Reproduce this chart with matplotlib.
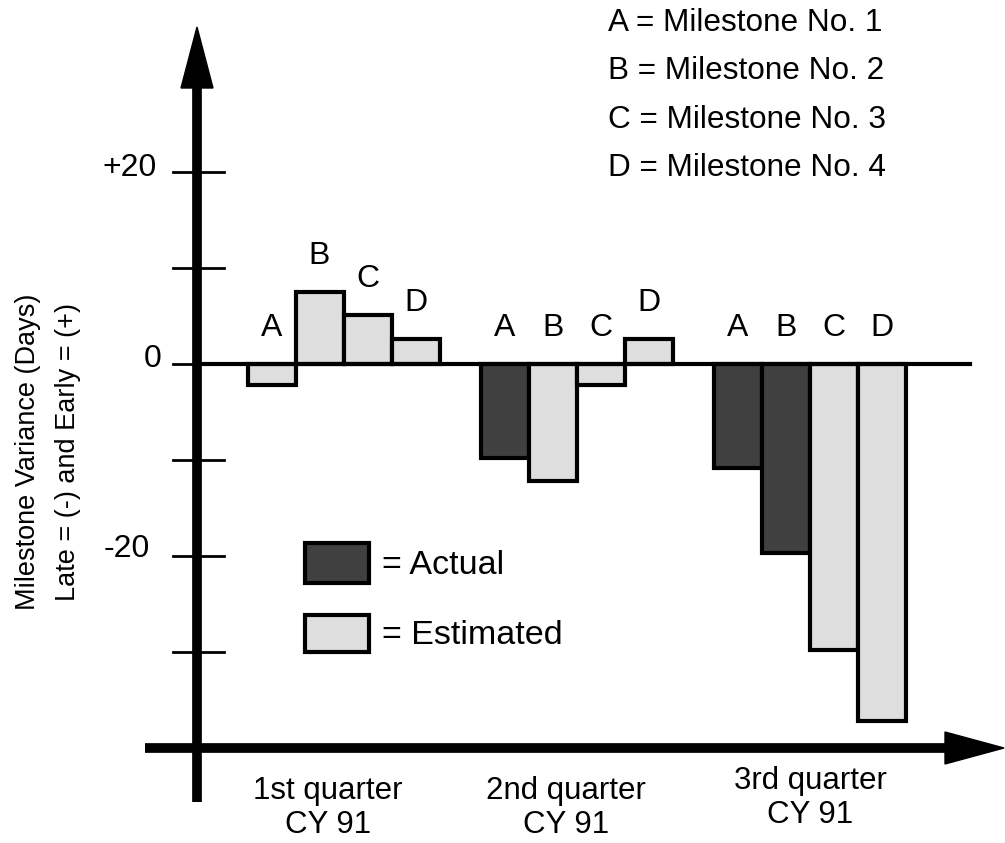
import matplotlib.pyplot as plt
import numpy as np

plt.rcParams['font.family'] = ['Liberation Sans', 'DejaVu Sans']

# ---------------- data
quarters = ['1st quarter', '2nd quarter', '3rd quarter']
year = 'CY 91'
milestones = ['A', 'B', 'C', 'D']
# variance in days, late = negative, early = positive
q1_days = [-2.2, 7.5, 5.1, 2.6]
q2_days = [-9.8, -12.2, -2.2, 2.6]
q3_days = [-10.8, -19.7, -29.8, -37.2]
# True = actual, False = estimated
q1_actual = [False, False, False, False]
q2_actual = [True, False, False, False]
q3_actual = [True, True, False, False]
y_ticks = [20, 10, 0, -10, -20, -30]
y_tick_labels = ['+20', '0', '-20']
key_text = ['A = Milestone No. 1', 'B = Milestone No. 2',
            'C = Milestone No. 3', 'D = Milestone No. 4']

DARK = '#404040'
LIGHT = '#dedede'

fig = plt.figure(figsize=(10.05, 8.43), dpi=100)
ax = fig.add_axes([0, 0, 1, 1])
ax.axis('off')

# layout: one bar = 48 px, one day = 9.6 px, zero line at 364 px from top
PX_BAR = 48.0
PX_DAY = 9.6
X0 = 343.5
Y0 = 364.0

def px(x):
    return (x - X0) / PX_BAR

def py(y):
    return (Y0 - y) / PX_DAY

ax.set_xlim(px(0), px(1005))
ax.set_ylim(py(843), py(0))

#-------------- bars
group_gap = 4.86
all_days = [q1_days, q2_days, q3_days]
all_actual = [q1_actual, q2_actual, q3_actual]
label_x = [328, 566, 810]        # px, centre of quarter label
label_base = [799, 799, 789]     # px, baseline of first line
for g in range(3):
    xs = g * group_gap + np.arange(4) - 1.5
    cols = [DARK if a else LIGHT for a in all_actual[g]]
    ax.bar(xs, all_days[g], width=1, color=cols, edgecolor='black',
           linewidth=3, zorder=3)
    for x, v, m in zip(xs, all_days[g], milestones):
        top = max(v, 0)
        ax.text(x, top + 3.75, m, ha='center', va='center', fontsize=23)
    ax.text(px(label_x[g]), py(label_base[g]), quarters[g],
            ha='center', va='baseline', fontsize=22.5)
    ax.text(px(label_x[g]), py(label_base[g] + 34), year,
            ha='center', va='baseline', fontsize=22.5)

# zero line
ax.plot([px(200), px(970)], [0, 0], color='black', lw=3, zorder=4)

#-------------- axes with arrows
ax.plot([px(197), px(197)], [py(802), py(85)], color='black', lw=7,
        solid_capstyle='butt', zorder=5)
ax.fill([px(181), px(213), px(197)], [py(88), py(88), py(27)],
        color='black', zorder=5)
ax.plot([px(145), px(948)], [py(748), py(748)], color='black', lw=7,
        solid_capstyle='butt', zorder=5)
ax.fill([px(945), px(945), px(1004)], [py(732), py(764), py(748)],
        color='black', zorder=5)

for t in y_ticks:
    ax.plot([px(173), px(224)], [t, t], color='black', lw=2, zorder=5)

# tick labels sit a little above their ticks
tick_lab_right = [157, 162, 150]
tick_lab_y = [168, 359, 549]
for s, xr, yy in zip(y_tick_labels, tick_lab_right, tick_lab_y):
    ax.text(px(xr), py(yy), s, ha='right', va='center', fontsize=23)

# y label
ax.text(px(28), py(452), 'Milestone Variance (Days)', rotation=90,
        ha='center', va='center', fontsize=19.5)
ax.text(px(68), py(452), 'Late = (-) and Early = (+)', rotation=90,
        ha='center', va='center', fontsize=19.5)

#-------------- milestone key
for i, s in enumerate(key_text):
    ax.text(px(608), py(23 + 48.5 * i), s, ha='left', va='center',
            fontsize=22.7)

#-------------- legend boxes
ax.bar(px(336.5), py(543) - py(583), bottom=py(583), width=64 / PX_BAR,
       color=DARK, edgecolor='black', linewidth=3)
ax.bar(px(336.5), py(615) - py(652), bottom=py(652), width=64 / PX_BAR,
       color=LIGHT, edgecolor='black', linewidth=3)
ax.text(px(382), py(565), '= Actual', ha='left', va='center', fontsize=24.5)
ax.text(px(382), py(635), '= Estimated', ha='left', va='center', fontsize=24.5)

plt.savefig('out.png', dpi=100)
